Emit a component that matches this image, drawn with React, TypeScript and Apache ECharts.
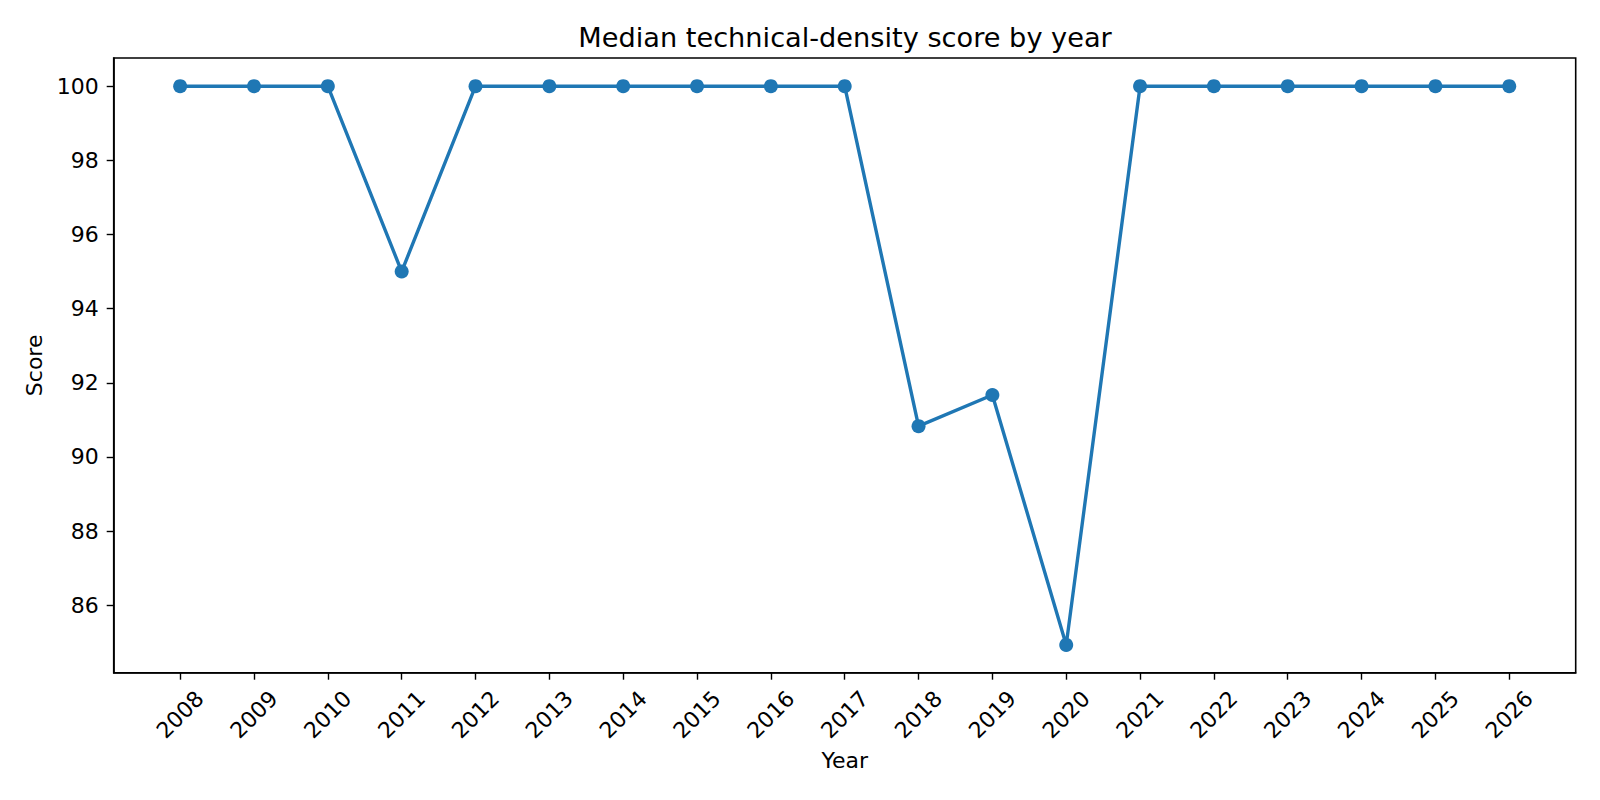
import React, { useEffect, useRef } from "react";
import * as echarts from "echarts";

const years: number[] = [2008, 2009, 2010, 2011, 2012, 2013, 2014, 2015, 2016, 2017, 2018, 2019, 2020, 2021, 2022, 2023, 2024, 2025, 2026];
const scores: number[] = [100, 100, 100, 95, 100, 100, 100, 100, 100, 100, 90.83, 91.67, 84.93, 100, 100, 100, 100, 100, 100];
const yTicks: number[] = [86, 88, 90, 92, 94, 96, 98, 100];

const FONT = "DejaVu Sans";

export default function App() {
  const ref = useRef<HTMLDivElement>(null);
  useEffect(() => {
    if (!ref.current) return;
    const chart = echarts.init(ref.current, null, { renderer: "svg" });
    chart.setOption({
      animation: false,
      backgroundColor: "#ffffff",
      textStyle: { fontFamily: FONT },
      title: {
        text: "Median technical-density score by year",
        left: 840,
        top: 19,
        textAlign: "center",
        textStyle: { fontFamily: FONT, fontSize: 27.2, fontWeight: "normal", color: "#000" },
      },
      grid: {
        left: 113.7,
        right: 24.3,
        top: 58,
        bottom: 127.3,
        show: true,
        borderColor: "#000",
        borderWidth: 1.6,
        backgroundColor: "transparent",
      },
      xAxis: {
        type: "value",
        min: 2007.1,
        max: 2026.9,
        name: "Year",
        nameLocation: "middle",
        nameGap: 77,
        nameTextStyle: { fontFamily: FONT, fontSize: 22, color: "#000" },
        splitLine: { show: false },
        axisLine: { show: true, lineStyle: { color: "#000", width: 1.6 } },
        axisTick: { show: true, length: 7, customValues: years, lineStyle: { color: "#000", width: 1.4 } },
        axisLabel: {
          customValues: years,
          rotate: 45,
          align: "center",
          verticalAlign: "middle",
          margin: 42,
          fontFamily: FONT,
          fontSize: 22,
          color: "#000",
          formatter: (v: number) => String(Math.round(v)),
        },
      },
      yAxis: {
        type: "value",
        min: 84.18,
        max: 100.76,
        name: "Score",
        nameLocation: "middle",
        nameGap: 68,
        nameTextStyle: { fontFamily: FONT, fontSize: 22, color: "#000" },
        splitLine: { show: false },
        axisLine: { show: true, lineStyle: { color: "#000", width: 1.6 } },
        axisTick: { show: true, length: 7, customValues: yTicks, lineStyle: { color: "#000", width: 1.4 } },
        axisLabel: {
          customValues: yTicks,
          margin: 15,
          fontFamily: FONT,
          fontSize: 22,
          color: "#000",
          formatter: (v: number) => String(Math.round(v)),
        },
      },
      series: [
        {
          type: "line",
          data: years.map((y, i) => [y, scores[i]]),
          symbol: "circle",
          symbolSize: 14,
          showSymbol: true,
          lineStyle: { color: "#1f77b4", width: 3.4 },
          itemStyle: { color: "#1f77b4" },
          emphasis: { disabled: true },
        },
      ],
    });
    return () => chart.dispose();
  }, []);
  return (
    <div
      ref={ref}
      style={{ position: "fixed", left: 0, top: 0, width: 1600, height: 800, background: "#fff" }}
    />
  );
}
